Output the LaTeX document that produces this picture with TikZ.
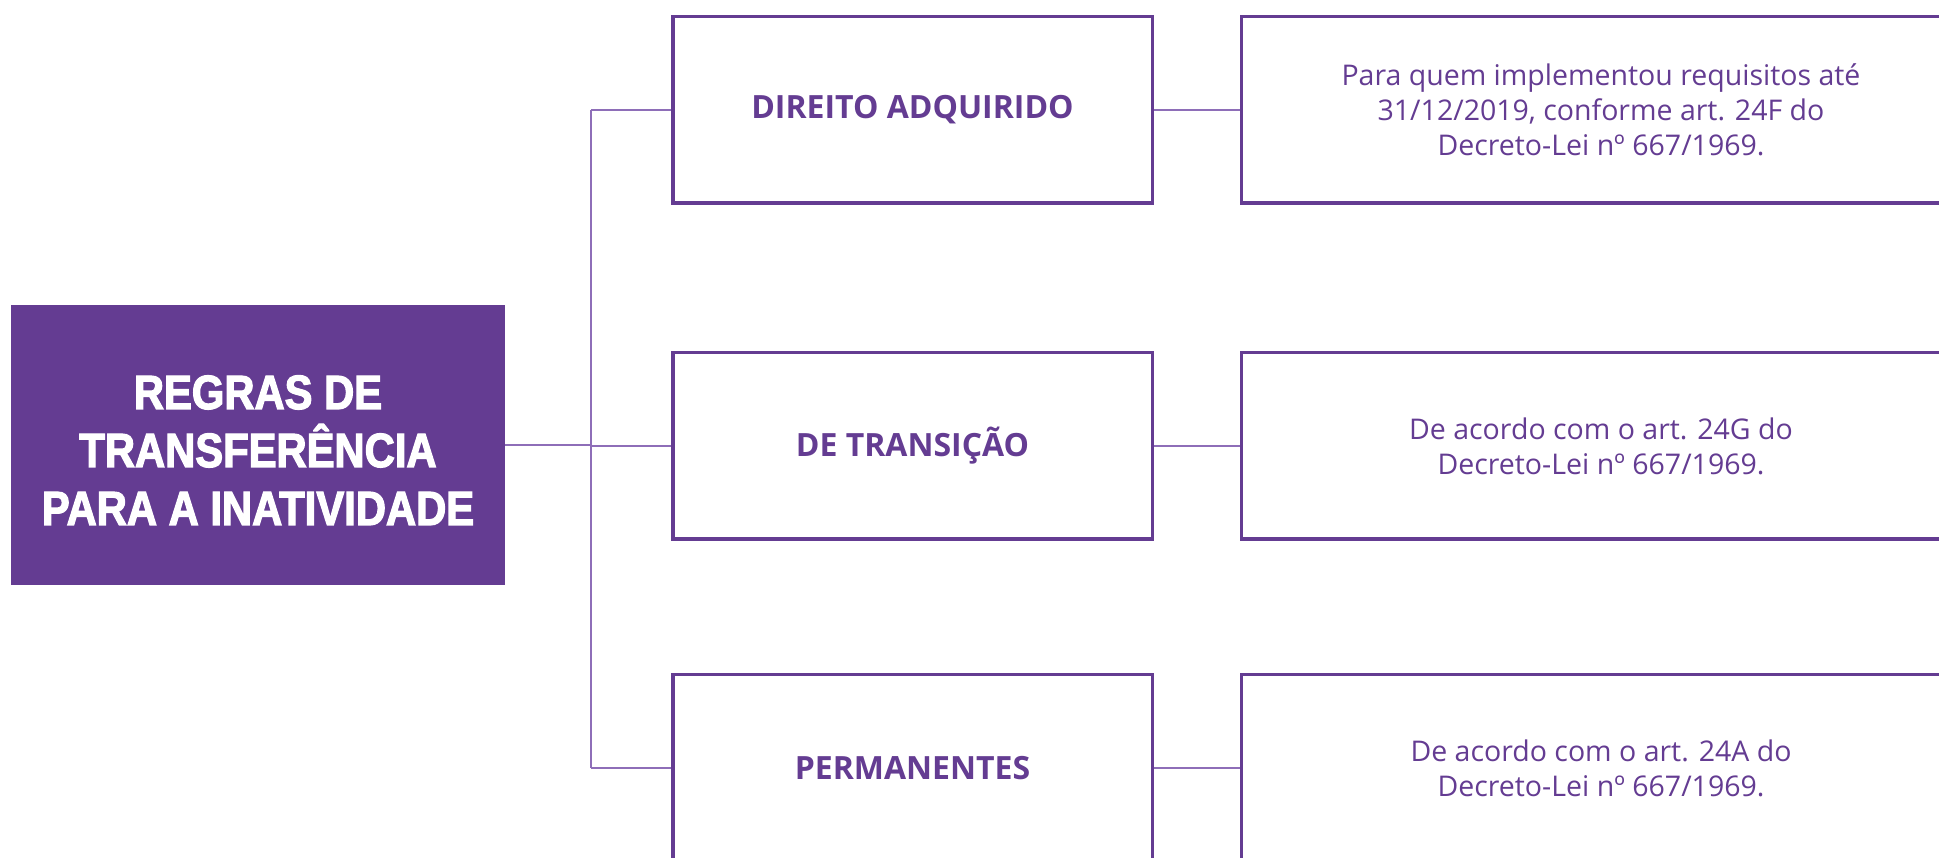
\documentclass[tikz,border=0pt]{standalone}
\usepackage{fontspec}
\setmainfont{Open Sans}
\newfontfamily\titlefont[FakeStretch=0.87,FakeBold=2.5]{Liberation Sans Bold}
\definecolor{roxo}{HTML}{643C92}
\definecolor{roxoclaro}{HTML}{8E6EB8}
\tikzset{
	titulo/.style={fill=roxo, text=white, minimum width=494pt, minimum height=280pt, inner sep=0pt, align=center, font=\titlefont\fontsize{48}{58}\selectfont},
	regra/.style={draw=roxo, line width=3.5pt, fill=white, minimum width=479.5pt, minimum height=186.5pt, inner sep=0pt, text=roxo, font=\bfseries\fontsize{32}{38}\selectfont},
	nota/.style={draw=roxo, line width=3.5pt, fill=white, minimum width=719pt, minimum height=186.5pt, inner sep=0pt, text=roxo, align=center, font=\fontsize{28.5}{35}\selectfont},
	liga/.style={draw=roxoclaro, line width=1.5pt}
}

\begin{document}
\begin{tikzpicture}[x=1pt, y=1pt]
		%%%%% START %%%%%
		\clip (0, 0) rectangle (1939, 858);
		
		\node[titulo] (tit) at (258, 413) {\rule{0pt}{44pt}REGRAS DE\\TRANSFERÊNCIA\\PARA A INATIVIDADE};
		
		\node[regra] (r1) at (912.5, 748) {DIREITO ADQUIRIDO};
		\node[regra] (r2) at (912.5, 412) {DE TRANSIÇÃO};
		\node[regra] (r3) at (912.5, 90) {PERMANENTES};
		
		\node[nota] (n1) at (1601, 748) {Para quem implementou requisitos até\\31/12/2019, conforme art. 24F do\\Decreto-Lei nº 667/1969.};
		\node[nota] (n2) at (1601, 412) {De acordo com o art. 24G do\\Decreto-Lei nº 667/1969.};
		\node[nota] (n3) at (1601, 90) {De acordo com o art. 24A do\\Decreto-Lei nº 667/1969.};
		
		\coordinate (t1) at (591, 748);
		\coordinate (t3) at (591, 90);
		\draw[liga] (t1) -- (t3);
		\draw[liga] (tit.east) -- (tit.east -| t1);
		
		\foreach \i in {1,2,3} {
			\draw[liga] (r\i.west -| t1) -- (r\i.west);
			\draw[liga] (r\i.east) -- (n\i.west);
		}
		
		%%%%% END %%%%%
	\end{tikzpicture}
\end{document}
